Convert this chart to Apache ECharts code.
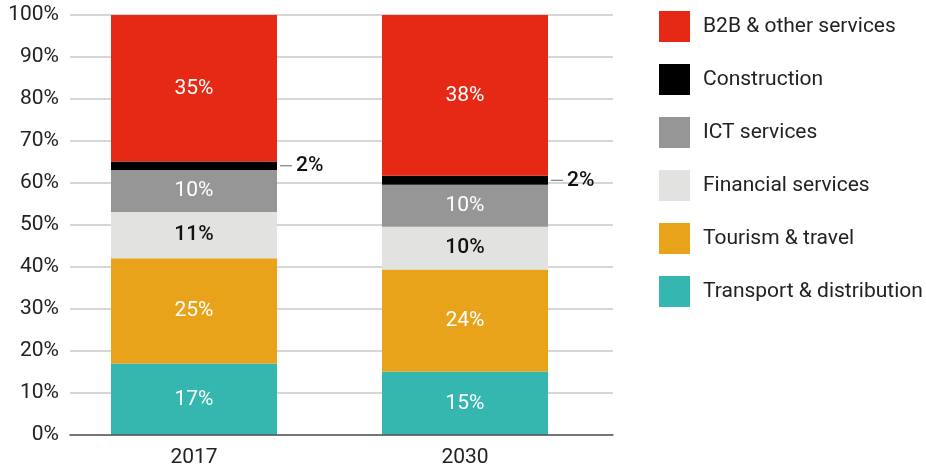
<!DOCTYPE html>
<html>
<head>
<meta charset="utf-8">
<script src="https://cdn.jsdelivr.net/npm/echarts@6/dist/echarts.min.js"></script>
<style>html,body{margin:0;padding:0;background:#fff}#c{width:926px;height:470px}</style>
</head>
<body>
<div id="c"></div>
<script>
const categories = ['2017', '2030'];
const seriesNames = ['Transport & distribution', 'Tourism & travel', 'Financial services', 'ICT services', 'Construction', 'B2B & other services'];
const transport = [17.0, 15.1];
const tourism = [25.1, 24.3];
const financial = [11.0, 10.2];
const ict = [10.0, 10.0];
const construction = [2.0, 2.1];
const b2b = [34.9, 38.3];
const yTicks = [0, 10, 20, 30, 40, 50, 60, 70, 80, 90, 100];

const colors = ['#35b6ae', '#e8a31a', '#e2e2e1', '#969696', '#000000', '#e52915'];
const values = [transport, tourism, financial, ict, construction, b2b];
const FONT = 'Roboto';
const FS = 21;

const series = seriesNames.map((name, i) => {
  let label;
  if (i === 4) {
    label = {
      show: true, position: 'right', distance: 3,
      formatter: p => '{d|}{v|' + Math.round(p.value) + '%}',
      rich: {
        d: { width: 12, height: 1, backgroundColor: '#666', align: 'left', verticalAlign: 'middle' },
        s: {},
        v: { fontFamily: FONT, fontSize: FS, color: '#111', fontWeight: 500, padding: [0, 0, 0, 4] }
      }
    };
  } else {
    label = {
      show: true, position: 'inside',
      formatter: p => Math.round(p.value) + '%',
      fontFamily: FONT, fontSize: FS,
      color: i === 2 ? '#111' : '#fff',
      fontWeight: i === 2 ? 500 : 400
    };
  }
  return {
    name, type: 'bar', stack: 'total', xAxisIndex: 1, yAxisIndex: 1,
    barWidth: 166, data: values[i],
    itemStyle: { color: colors[i] },
    label, emphasis: { disabled: true }
  };
});

const chart = echarts.init(document.getElementById('c'), null, { renderer: 'canvas' });
chart.setOption({
  animation: false,
  backgroundColor: '#fff',
  grid: [
    { left: 70, right: 313, top: 15, bottom: 35 },
    { left: 58.5, right: 325.5, top: 15, bottom: 35 }
  ],
  xAxis: [
    { gridIndex: 0, type: 'category', data: categories, axisLabel: { show: false }, axisTick: { show: false },
      axisLine: { show: true, lineStyle: { color: '#555', width: 1.5 } }, z: 5 },
    { gridIndex: 1, type: 'category', data: categories, axisTick: { show: false }, axisLine: { show: false },
      axisLabel: { fontFamily: FONT, fontSize: FS, color: '#222', margin: 12 } }
  ],
  yAxis: [
    { gridIndex: 0, type: 'value', min: 0, max: 100, interval: 10,
      axisLabel: { formatter: v => yTicks.includes(v) ? v + '%' : '', fontFamily: FONT, fontSize: FS, color: '#222', margin: 11 },
      axisLine: { show: false }, axisTick: { show: false },
      splitLine: { lineStyle: { color: '#c8c8c8', width: 1.5 } } },
    { gridIndex: 1, type: 'value', min: 0, max: 100, show: false, splitLine: { show: false } }
  ],
  legend: {
    orient: 'vertical', left: 659, top: 11, padding: 0,
    itemWidth: 31, itemHeight: 31, itemGap: 22,
    data: seriesNames.slice().reverse(),
    icon: 'rect',
    textStyle: { fontFamily: FONT, fontSize: FS, color: '#222', padding: [0, 0, 0, 8] },
    selectedMode: false
  },
  series
});
</script>
</body>
</html>
